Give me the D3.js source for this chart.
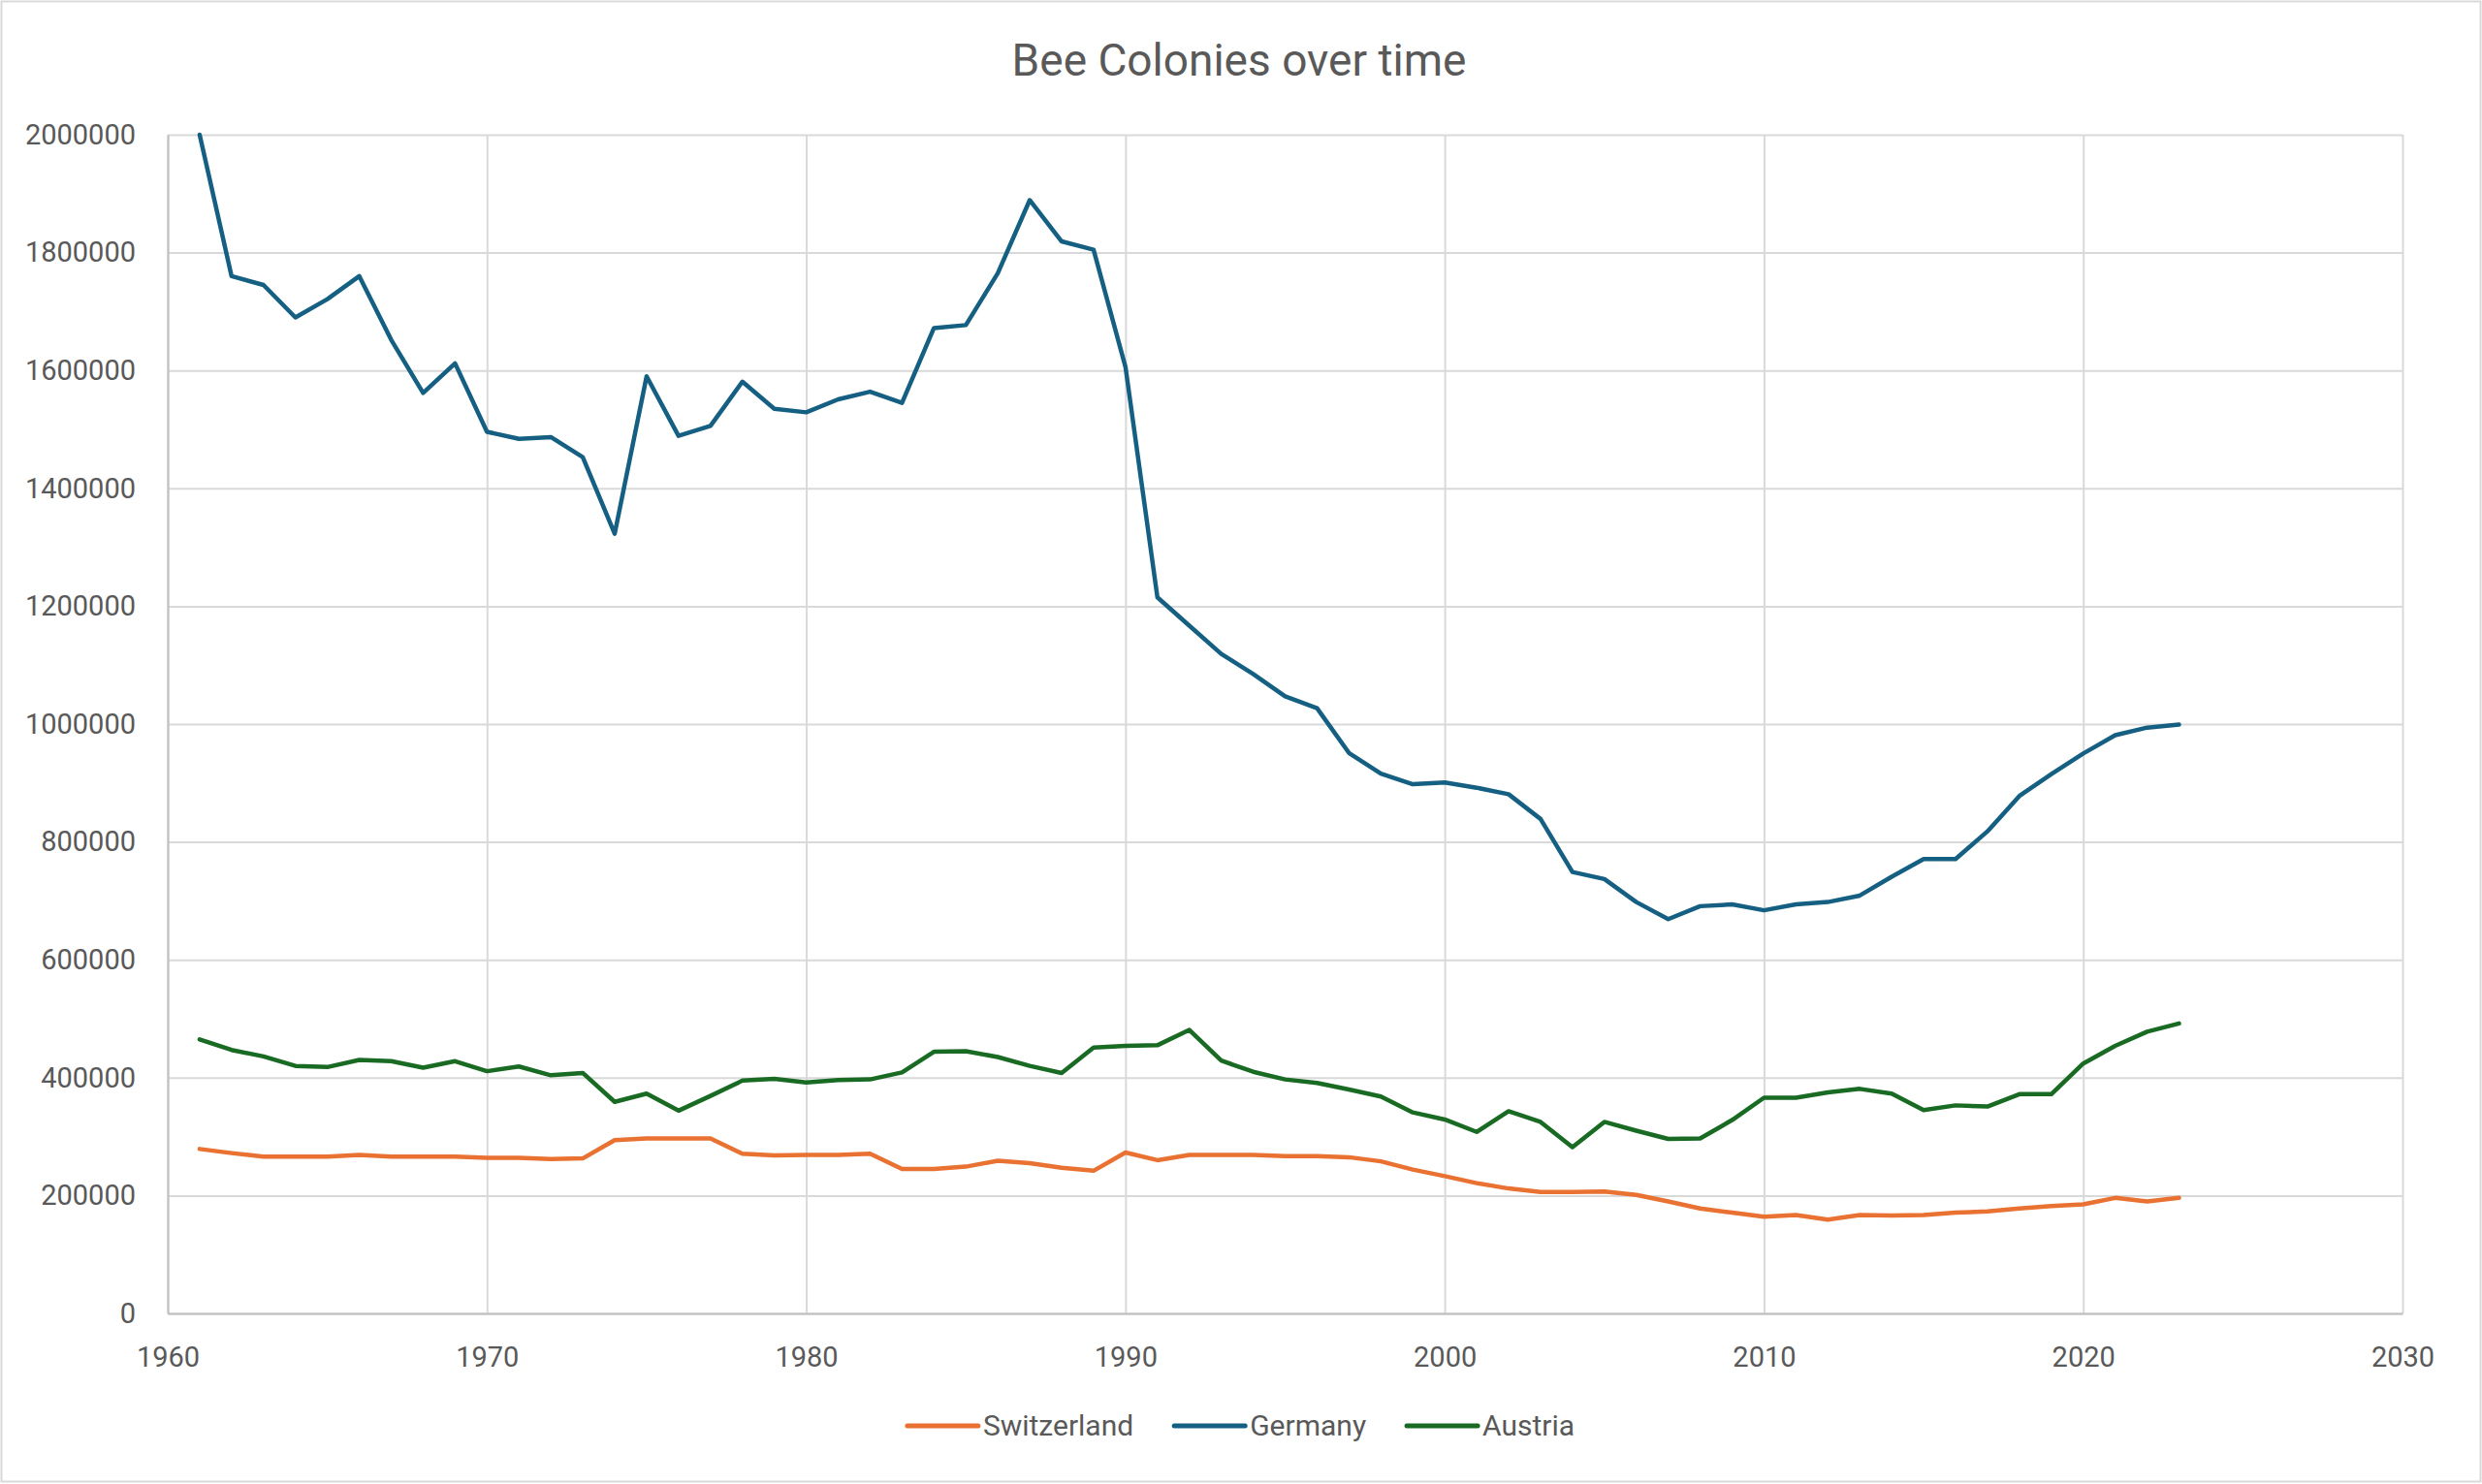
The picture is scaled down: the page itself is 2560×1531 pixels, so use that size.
<!DOCTYPE html>
<html>
<head>
<meta charset="utf-8">
<script src="https://cdn.jsdelivr.net/npm/d3@7"></script>
<style>
  body { margin: 0; background: #fff; }
  svg { display: block; font-family: Roboto, "Liberation Sans", sans-serif; }
</style>
</head>
<body>
<svg width="2560" height="1531"></svg>
<script>
// data (colonies per year)
var years = [1961,1962,1963,1964,1965,1966,1967,1968,1969,1970,
             1971,1972,1973,1974,1975,1976,1977,1978,1979,1980,
             1981,1982,1983,1984,1985,1986,1987,1988,1989,1990,
             1991,1992,1993,1994,1995,1996,1997,1998,1999,2000,
             2001,2002,2003,2004,2005,2006,2007,2008,2009,2010,
             2011,2012,2013,2014,2015,2016,2017,2018,2019,2020,
             2021,2022,2023];

var switzerland = [279000,272000,266000,266000,266000,269000,266000,266000,266000,264000,
                   264000,262000,263000,294000,297000,297000,297000,271000,268000,269000,
                   269000,271000,245000,245000,249000,259000,255000,247000,242000,273000,
                   260000,269000,269000,269000,267000,267000,265000,258000,244000,233000,
                   221000,212000,206000,206000,207000,201000,190000,178000,171000,164000,
                   167000,159000,167000,166000,167000,171000,173000,178000,182000,185000,
                   196000,190000,196000];

var germany = [2000000,1760000,1745000,1690000,1721000,1760000,1652000,1562000,1612000,1496000,
               1484000,1487000,1453000,1323000,1590000,1489000,1506000,1581000,1535000,1529000,
               1551000,1564000,1545000,1672000,1677000,1765000,1889000,1819000,1805000,1606000,
               1215000,1167000,1119000,1085000,1047000,1027000,951000,916000,898000,901000,
               892000,881000,839000,749000,737000,698000,669000,691000,694000,684000,
               694000,698000,709000,741000,771000,771000,818000,878000,915000,950000,
               981000,994000,999000];

var austria = [465000,447000,436000,420000,418000,430000,428000,417000,428000,411000,
               419000,404000,408000,359000,373000,344000,369000,395000,398000,392000,
               396000,397000,409000,444000,445000,435000,420000,408000,451000,454000,
               455000,481000,429000,410000,397000,391000,380000,368000,341000,329000,
               308000,343000,325000,282000,325000,310000,296000,297000,328000,366000,
               366000,375000,381000,373000,345000,353000,351000,372000,372000,424000,
               454000,478000,492000];

var xTicks = [1960,1970,1980,1990,2000,2010,2020,2030];
var yTicks = [0,200000,400000,600000,800000,1000000,1200000,1400000,1600000,1800000,2000000];

var seriesNames = ['Switzerland','Germany','Austria'];
var seriesColors = ['#E97132','#156082','#196B24'];
var seriesData = [switzerland, germany, austria];

var svg = d3.select('svg');
var W = 2560, H = 1531;
var pLeft = 173, pTop = 139, pRight = 2478, pBottom = 1355;
var textCol = '#595959';

// chart border
svg.append('rect').attr('x',1.5).attr('y',1.5).attr('width',W-3).attr('height',H-4)
   .attr('fill','#fff').attr('stroke','#D9D9D9').attr('stroke-width',2);

var x = d3.scaleLinear().domain([1960,2030]).range([pLeft,pRight]);
var y = d3.scaleLinear().domain([0,2000000]).range([pBottom,pTop]);

// gridlines
var gx = svg.append('g').attr('transform','translate(0,'+pBottom+')')
   .call(d3.axisBottom(x).tickValues(xTicks).tickSize(-(pBottom-pTop)).tickFormat(''));
gx.select('.domain').remove();
gx.selectAll('line').attr('stroke','#D9D9D9').attr('stroke-width',2);

var gy = svg.append('g').attr('transform','translate('+pLeft+',0)')
   .call(d3.axisLeft(y).tickValues(yTicks).tickSize(-(pRight-pLeft)).tickFormat(''));
gy.select('.domain').remove();
gy.selectAll('line').attr('stroke','#D9D9D9').attr('stroke-width',2);

// axes
var ax = svg.append('g').attr('transform','translate(0,'+pBottom+')')
   .call(d3.axisBottom(x).tickValues(xTicks).tickSize(0).tickPadding(34).tickFormat(d3.format('d')));
ax.select('.domain').attr('stroke','#BFBFBF').attr('stroke-width',2);
ax.selectAll('text').attr('fill',textCol).style('font-size','29px').style('font-family','Roboto, sans-serif');

var ay = svg.append('g').attr('transform','translate('+pLeft+',0)')
   .call(d3.axisLeft(y).tickValues(yTicks).tickSize(0).tickPadding(33).tickFormat(d3.format('d')));
ay.select('.domain').attr('stroke','#BFBFBF').attr('stroke-width',2);
ay.selectAll('text').attr('fill',textCol).style('font-size','29px').style('font-family','Roboto, sans-serif');

// lines
var line = d3.line().x(function(d,i){ return x(years[i]); }).y(function(d){ return y(d); });
seriesData.forEach(function(s,k){
  svg.append('path').datum(s).attr('d',line)
     .attr('fill','none').attr('stroke',seriesColors[k]).attr('stroke-width',4.5)
     .attr('stroke-linejoin','round').attr('stroke-linecap','round');
});

// title
svg.append('text').attr('x',1278).attr('y',78).attr('text-anchor','middle')
   .attr('fill',textCol).style('font-size','46px').text('Bee Colonies over time');

// legend
var lg = svg.append('g');
var lx = 0;
seriesNames.forEach(function(n,k){
  var it = lg.append('g').attr('transform','translate('+lx+',0)');
  it.append('line').attr('x1',0).attr('x2',73).attr('y1',0).attr('y2',0)
    .attr('stroke',seriesColors[k]).attr('stroke-width',5).attr('stroke-linecap','round');
  var t = it.append('text').attr('x',78).attr('y',10).attr('fill',textCol)
    .style('font-size','30px').text(n);
  lx += 78 + t.node().getComputedTextLength() + 42;
});
lx -= 42;
lg.attr('transform','translate('+(1280 - lx/2)+',1471)');
</script>
</body>
</html>
